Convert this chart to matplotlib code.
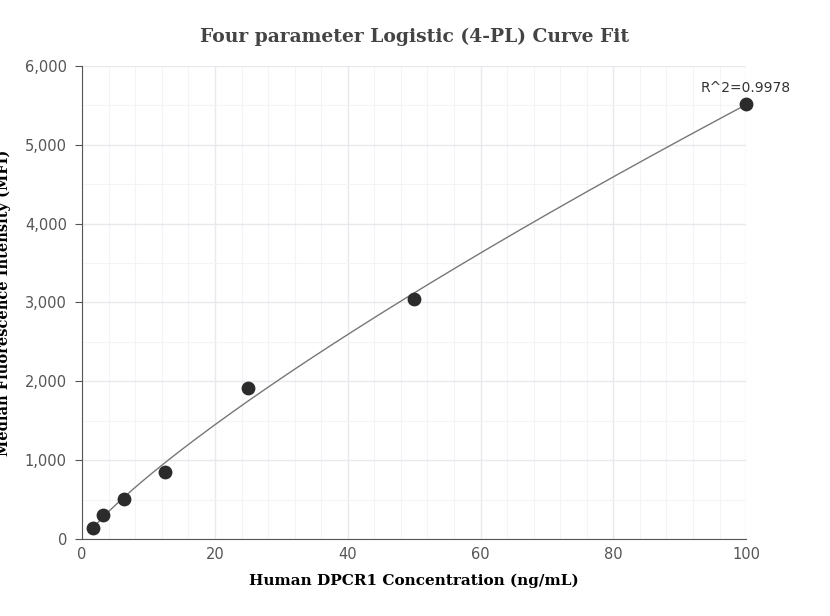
import numpy as np
import matplotlib; matplotlib.use("Agg")
import matplotlib.pyplot as plt
from matplotlib.ticker import FuncFormatter, MultipleLocator

conc = [1.5625, 3.125, 6.25, 12.5, 25, 50, 100]
mfi = [140, 305, 508, 850, 1916, 3046, 5520]
r2_label = "R^2=0.9978"

# 4PL fit: grid over B, C; A, D solved linearly
x = np.array(conc); y = np.array(mfi, float)
best = None
for B in np.linspace(0.5, 2.5, 81):
    for C in np.logspace(0, 4, 161):
        g = 1.0 / (1.0 + (x / C) ** B)
        M = np.column_stack([g, 1 - g])
        coef, *_ = np.linalg.lstsq(M, y, rcond=None)
        err = np.sum((M @ coef - y) ** 2)
        if best is None or err < best[0]:
            best = (err, B, C, coef)
_, B, C, (A, D) = best
xs = np.linspace(min(conc), max(conc), 300)
ys = D + (A - D) / (1 + (xs / C) ** B)

fig = plt.figure(figsize=(8.3, 6.16), dpi=100)
ax = fig.add_axes([0.099, 0.125, 0.80, 0.768])
ax.plot(xs, ys, color="#777777", lw=1.0, zorder=2)
ax.scatter(conc, mfi, s=80, color="#2b2b2b", zorder=3, clip_on=False)
ax.annotate(r2_label, (conc[-1], mfi[-1]), xytext=(0, 6), textcoords="offset points",
            ha="center", va="bottom", fontsize=10, color="#333333")
ax.set_xlim(0, 100); ax.set_ylim(0, 6000)
ax.xaxis.set_major_locator(MultipleLocator(20)); ax.xaxis.set_minor_locator(MultipleLocator(4))
ax.yaxis.set_major_locator(MultipleLocator(1000)); ax.yaxis.set_minor_locator(MultipleLocator(500))
ax.yaxis.set_major_formatter(FuncFormatter(lambda v, p: f"{int(v):,}"))
ax.grid(which="major", color="#e6e9ee", lw=1.0)
ax.grid(which="minor", color="#f3f4f6", lw=0.8)
ax.set_axisbelow(True)
for s in ["top", "right"]:
    ax.spines[s].set_visible(False)
for s in ["left", "bottom"]:
    ax.spines[s].set_color("#555555")
ax.tick_params(which="both", length=0, labelsize=10.5, labelcolor="#555555", pad=6)
ax.tick_params(which="major", axis="y", length=5, color="#555555")
ax.set_xlabel("Human DPCR1 Concentration (ng/mL)", fontfamily="serif", fontweight="bold", fontsize=11, labelpad=8)
ax.set_ylabel("Median Fluorescence Intensity (MFI)", fontfamily="serif", fontweight="bold", fontsize=10.5, labelpad=10)
fig.suptitle("Four parameter Logistic (4-PL) Curve Fit", fontfamily="serif", fontweight="bold",
             fontsize=13.5, color="#444444", y=0.955)
fig.savefig("out.png", dpi=100)
